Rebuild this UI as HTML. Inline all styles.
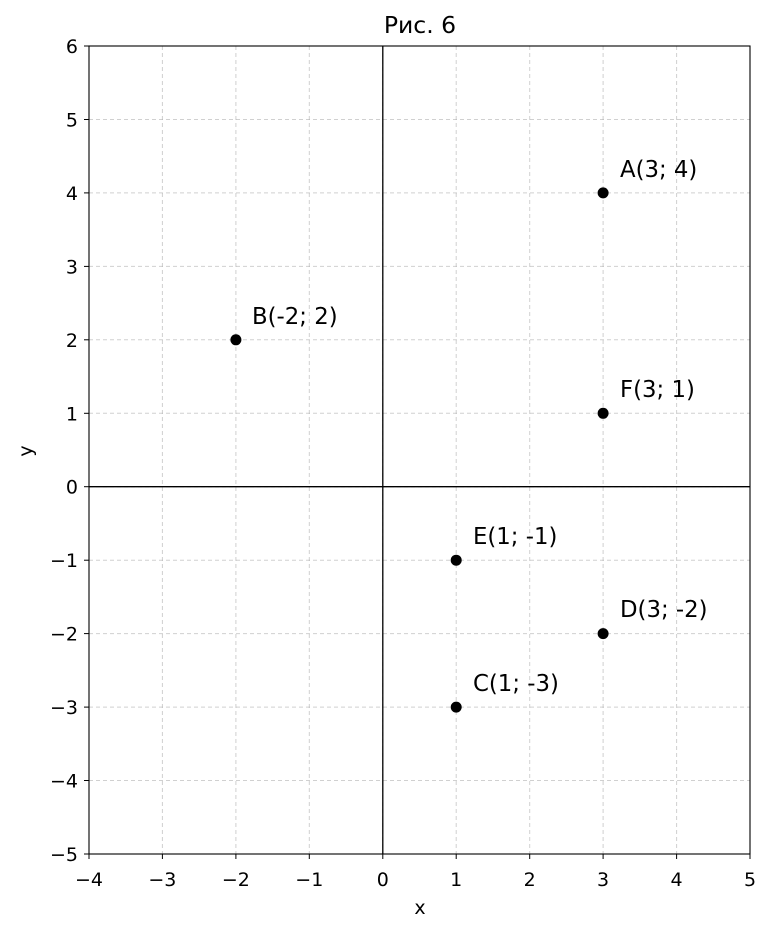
<!DOCTYPE html>
<html><head><meta charset="utf-8"><style>body{margin:0;background:#fff}</style></head><body>
<svg width="771" height="932" xmlns="http://www.w3.org/2000/svg" font-family="DejaVu Sans, Liberation Sans, sans-serif">
<rect width="771" height="932" fill="#fff"/>
<g stroke="#b0b0b0" stroke-opacity="0.6" stroke-dasharray="4,3" stroke-width="1">
<line x1="162.4" y1="46" x2="162.4" y2="854"/><line x1="235.9" y1="46" x2="235.9" y2="854"/><line x1="309.3" y1="46" x2="309.3" y2="854"/><line x1="382.8" y1="46" x2="382.8" y2="854"/><line x1="456.2" y1="46" x2="456.2" y2="854"/><line x1="529.7" y1="46" x2="529.7" y2="854"/><line x1="603.1" y1="46" x2="603.1" y2="854"/><line x1="676.6" y1="46" x2="676.6" y2="854"/>
<line x1="89" y1="119.5" x2="750" y2="119.5"/><line x1="89" y1="192.9" x2="750" y2="192.9"/><line x1="89" y1="266.4" x2="750" y2="266.4"/><line x1="89" y1="339.8" x2="750" y2="339.8"/><line x1="89" y1="413.3" x2="750" y2="413.3"/><line x1="89" y1="486.7" x2="750" y2="486.7"/><line x1="89" y1="560.2" x2="750" y2="560.2"/><line x1="89" y1="633.6" x2="750" y2="633.6"/><line x1="89" y1="707.1" x2="750" y2="707.1"/><line x1="89" y1="780.5" x2="750" y2="780.5"/>
</g>
<line x1="382.8" y1="46" x2="382.8" y2="854" stroke="#000" stroke-width="1.3"/>
<line x1="89" y1="486.7" x2="750" y2="486.7" stroke="#000" stroke-width="1.3"/>
<rect x="89" y="46" width="661" height="808" fill="none" stroke="#000" stroke-width="1.1"/>
<g stroke="#000" stroke-width="1">
<line x1="89" y1="854" x2="89" y2="859"/><line x1="162.4" y1="854" x2="162.4" y2="859"/><line x1="235.9" y1="854" x2="235.9" y2="859"/><line x1="309.3" y1="854" x2="309.3" y2="859"/><line x1="382.8" y1="854" x2="382.8" y2="859"/><line x1="456.2" y1="854" x2="456.2" y2="859"/><line x1="529.7" y1="854" x2="529.7" y2="859"/><line x1="603.1" y1="854" x2="603.1" y2="859"/><line x1="676.6" y1="854" x2="676.6" y2="859"/><line x1="750" y1="854" x2="750" y2="859"/>
<line x1="84" y1="46" x2="89" y2="46"/><line x1="84" y1="119.5" x2="89" y2="119.5"/><line x1="84" y1="192.9" x2="89" y2="192.9"/><line x1="84" y1="266.4" x2="89" y2="266.4"/><line x1="84" y1="339.8" x2="89" y2="339.8"/><line x1="84" y1="413.3" x2="89" y2="413.3"/><line x1="84" y1="486.7" x2="89" y2="486.7"/><line x1="84" y1="560.2" x2="89" y2="560.2"/><line x1="84" y1="633.6" x2="89" y2="633.6"/><line x1="84" y1="707.1" x2="89" y2="707.1"/><line x1="84" y1="780.5" x2="89" y2="780.5"/><line x1="84" y1="854" x2="89" y2="854"/>
</g>
<g font-size="19" text-anchor="middle" fill="#000">
<text x="89" y="886">−4</text><text x="162.4" y="886">−3</text><text x="235.9" y="886">−2</text><text x="309.3" y="886">−1</text><text x="382.8" y="886">0</text><text x="456.2" y="886">1</text><text x="529.7" y="886">2</text><text x="603.1" y="886">3</text><text x="676.6" y="886">4</text><text x="750" y="886">5</text>
<text x="420" y="914">x</text>
<text x="420" y="33" font-size="23.5">Рис. 6</text>
</g>
<g font-size="19" text-anchor="end" fill="#000">
<text x="78" y="53">6</text><text x="78" y="126.5">5</text><text x="78" y="199.9">4</text><text x="78" y="273.4">3</text><text x="78" y="346.8">2</text><text x="78" y="420.3">1</text><text x="78" y="493.7">0</text><text x="78" y="567.2">−1</text><text x="78" y="640.6">−2</text><text x="78" y="714.1">−3</text><text x="78" y="787.5">−4</text><text x="78" y="861">−5</text>
</g>
<text x="32" y="451" font-size="19" text-anchor="middle" transform="rotate(-90 32 451)">y</text>
<g fill="#000">
<circle cx="603.1" cy="192.9" r="5.5"/><circle cx="235.9" cy="339.8" r="5.5"/><circle cx="603.1" cy="413.3" r="5.5"/><circle cx="456.2" cy="560.2" r="5.5"/><circle cx="603.1" cy="633.6" r="5.5"/><circle cx="456.2" cy="707.1" r="5.5"/>
</g>
<g font-size="22.8" fill="#000">
<text x="620" y="177">A(3; 4)</text><text x="252" y="324">B(-2; 2)</text><text x="620" y="397">F(3; 1)</text><text x="473" y="544">E(1; -1)</text><text x="620" y="617">D(3; -2)</text><text x="473" y="691">C(1; -3)</text>
</g>
</svg>
</body></html>
